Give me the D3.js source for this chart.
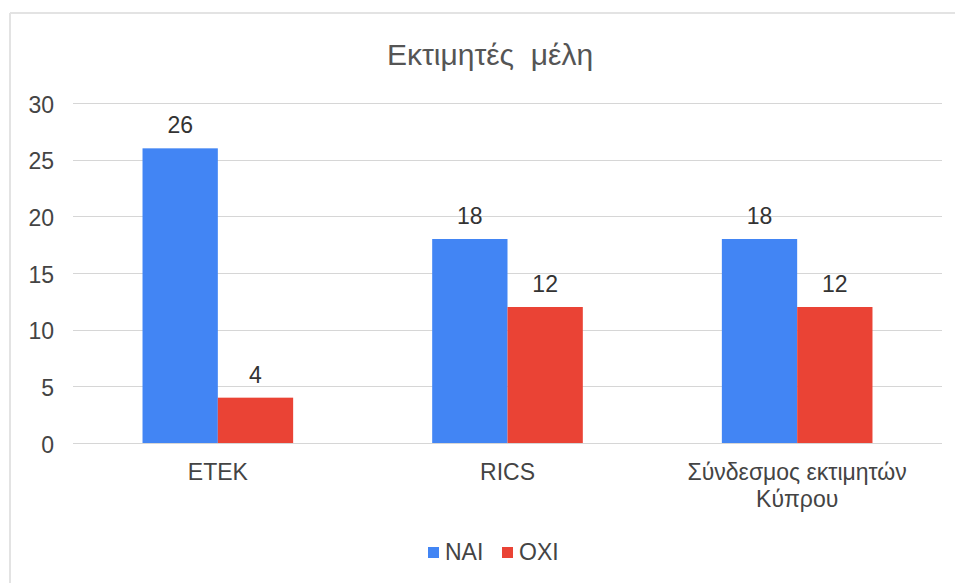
<!DOCTYPE html>
<html>
<head>
<meta charset="utf-8">
<script src="https://cdn.jsdelivr.net/npm/d3@7"></script>
<style>
  body { margin: 0; background: #fff; }
  svg { display: block; font-family: "Liberation Sans", Arial, sans-serif; }
</style>
</head>
<body>
<svg width="955" height="583"></svg>
<script>
// chart data
var categories = [["ETEK"], ["RICS"], ["Σύνδεσμος εκτιμητών", "Κύπρου"]];
var seriesNames = ["NAI", "OXI"];
var naiValues = [26, 18, 18];
var oxiValues = [4, 12, 12];
var yTicks = [0, 5, 10, 15, 20, 25, 30];
var colors = ["#4285f4", "#ea4335"];

var svg = d3.select('svg');

// frame of the chart (top and left edges only)
svg.append('line')
    .attr('x1', 10).attr('x2', 955).attr('y1', 13).attr('y2', 13)
    .style('stroke', '#e3e3e3').style('stroke-width', 2);
svg.append('line')
    .attr('x1', 10).attr('x2', 10).attr('y1', 13).attr('y2', 583)
    .style('stroke', '#e3e3e3').style('stroke-width', 2);

// scales
var xScale = d3.scaleBand()
    .domain(d3.range(categories.length))
    .range([73, 942])
    .paddingInner(0.48)
    .paddingOuter(0.24);

var subScale = d3.scaleBand()
    .domain(seriesNames)
    .range([0, xScale.bandwidth()]);

var yScale = d3.scaleLinear()
    .domain([0, 30]).range([443, 103]);

// gridlines
svg.append('g').attr('class', 'grid')
    .selectAll('line')
    .data(yTicks)
    .enter()
    .append('line')
    .attr('x1', 73).attr('x2', 942)
    .attr('y1', function (d) { return Math.round(yScale(d)) + 0.5; })
    .attr('y2', function (d) { return Math.round(yScale(d)) + 0.5; })
    .style('stroke', '#d6d6d6')
    .style('stroke-width', 1);

// y axis labels
var yAxis = svg.append('g').attr('class', 'y axis')
    .attr('transform', 'translate(54,0)')
    .call(d3.axisLeft(yScale).tickValues(yTicks).tickSize(0).tickPadding(0));
yAxis.select('.domain').remove();
yAxis.selectAll('text')
    .attr('dy', '0.4em')
    .style('font-size', '23px')
    .style('fill', '#444')
    .style('font-family', '"Liberation Sans", Arial, sans-serif');

// bars
var rows = categories.map(function (c, i) {
    return { index: i, values: [naiValues[i], oxiValues[i]] };
});

var groups = svg.append('g').attr('class', 'bars')
    .selectAll('g')
    .data(rows)
    .enter()
    .append('g')
    .attr('transform', function (d) { return 'translate(' + xScale(d.index) + ',0)'; });

groups.selectAll('rect')
    .data(function (d) { return d.values.map(function (v, j) { return { s: seriesNames[j], v: v, j: j }; }); })
    .enter()
    .append('rect')
    .attr('x', function (d) { return subScale(d.s); })
    .attr('width', subScale.bandwidth())
    .attr('y', function (d) { return yScale(d.v); })
    .attr('height', function (d) { return yScale(0) - yScale(d.v); })
    .style('fill', function (d) { return colors[d.j]; });

// value labels
groups.selectAll('text')
    .data(function (d) { return d.values.map(function (v, j) { return { s: seriesNames[j], v: v }; }); })
    .enter()
    .append('text')
    .attr('x', function (d) { return subScale(d.s) + subScale.bandwidth() / 2; })
    .attr('y', function (d) { return yScale(d.v) - 15; })
    .attr('text-anchor', 'middle')
    .style('font-size', '23px')
    .style('fill', '#333')
    .text(function (d) { return d.v; });

// category labels
svg.append('g').attr('class', 'x labels')
    .selectAll('text')
    .data(categories)
    .enter()
    .append('text')
    .attr('text-anchor', 'middle')
    .attr('transform', function (d, i) { return 'translate(' + (xScale(i) + xScale.bandwidth() / 2) + ',480)'; })
    .style('font-size', '23px')
    .style('fill', '#444')
    .selectAll('tspan')
    .data(function (d) { return d; })
    .enter()
    .append('tspan')
    .attr('x', 0)
    .attr('dy', function (d, i) { return i === 0 ? 0 : 27; })
    .text(function (d) { return d; });

// title
svg.append('text')
    .attr('class', 'title')
    .attr('x', 490)
    .attr('y', 65)
    .attr('text-anchor', 'middle')
    .style('font-size', '30px')
    .style('fill', '#555')
    .style('white-space', 'pre')
    .text('Εκτιμητές  μέλη');

// legend
var legend = svg.append('g').attr('class', 'legend')
    .selectAll('g')
    .data(seriesNames)
    .enter()
    .append('g')
    .attr('transform', function (d, i) { return 'translate(' + (428 + i * 74) + ',547)'; });

legend.append('rect')
    .attr('width', 11).attr('height', 11)
    .style('fill', function (d, i) { return colors[i]; });

legend.append('text')
    .attr('x', 17)
    .attr('y', 13)
    .style('font-size', '23px')
    .style('fill', '#444')
    .text(function (d) { return d; });
</script>
</body>
</html>
